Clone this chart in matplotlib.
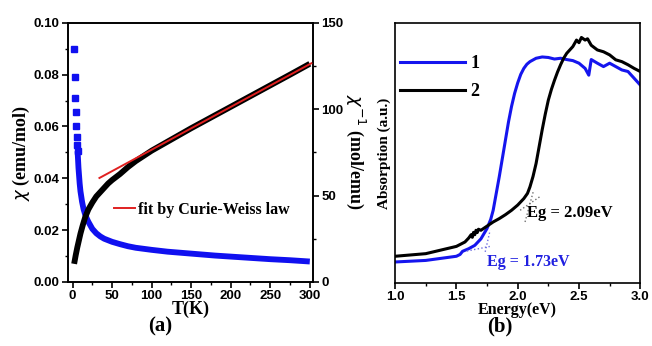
import numpy as np
from matplotlib import pyplot as plt
from matplotlib.ticker import MultipleLocator

# (a) susceptibility vs T
T_low = [2, 2.8, 3.5, 4.1, 4.7, 5.3, 5.8, 6.3]
chi_low = [0.090, 0.079, 0.071, 0.0655, 0.060, 0.056, 0.053, 0.0505]

T_chi = [6.3, 6.8, 7.5, 8, 9, 10, 12, 14, 16, 18, 20, 25, 30, 35, 40, 50, 60, 70, 80,
         90, 100, 120, 140, 160, 180, 200, 225, 250, 275, 300]
chi = [0.0505, 0.048, 0.044, 0.042, 0.038, 0.035, 0.031, 0.028, 0.026, 0.0245, 0.0232,
       0.0205, 0.0188, 0.0176, 0.0167, 0.0155, 0.0146, 0.0138, 0.0132, 0.0128,
       0.0124, 0.0117, 0.0112, 0.0107, 0.0102, 0.0098, 0.0093, 0.0088, 0.0084,
       0.0079]

T_inv = [2, 3, 4, 6, 8, 10, 13, 16, 20, 25, 30, 36, 45, 50, 60, 70, 80, 90, 100,
         125, 150, 175, 200, 225, 250, 275, 300]
chi_inv = [10.5, 13, 15.5, 20, 24, 28, 33, 37.5, 42, 46, 49.5, 52.5, 57, 59, 62.5,
           66.5, 70, 73, 76, 82.5, 89, 95.2, 101.4, 107.6, 113.8, 120, 126.3]

T_fit = [34, 302]
fit = [60.2, 126.6]

# (b) absorption spectra
E1 = [1.0, 1.25, 1.5, 1.53, 1.55, 1.6, 1.65, 1.7, 1.75, 1.78, 1.8, 1.825, 1.85,
      1.875, 1.9, 1.925, 1.95, 1.975, 2.0, 2.025, 2.05, 2.075, 2.1, 2.15, 2.2,
      2.25, 2.3, 2.35, 2.4, 2.45, 2.5, 2.55, 2.58, 2.6, 2.65, 2.7, 2.75, 2.8,
      2.85, 2.9, 2.95, 3.0]
A1 = [8.1, 8.7, 10.3, 11.0, 12.2, 13.2, 14.5, 17, 21, 24.5, 28, 34.5, 41,
      48, 55, 62, 68, 73, 77, 80.3, 82.6, 84.2, 85.2, 86.5, 87,
      86.8, 86.2, 86.5, 86, 85.6, 84.6, 82.6, 80, 86, 84.6, 83.3, 84.6, 83.3,
      82, 81.4, 78.8, 76.2]

E2 = [1.0, 1.25, 1.5, 1.57, 1.6, 1.62, 1.63, 1.64, 1.65, 1.66, 1.67, 1.68, 1.7,
      1.75, 1.8, 1.85, 1.9, 1.95, 2.0, 2.05, 2.08, 2.1, 2.125, 2.15, 2.175, 2.2,
      2.225, 2.25, 2.275, 2.3, 2.325, 2.35, 2.375, 2.4, 2.45, 2.48, 2.5, 2.52,
      2.55, 2.57, 2.6, 2.65, 2.7, 2.75, 2.8, 2.85, 2.9, 2.95, 3.0]
A2 = [10.3, 11.3, 14.1, 15.8, 17.3, 18.6, 17.6, 19.5, 18.6, 20.3, 19.4, 20.7, 20.3,
      21.9, 23.5, 24.8, 26.3, 28, 30, 32.5, 34.5, 37, 41, 46, 52.5, 59,
      65, 70.4, 74.5, 78, 81.2, 84, 86.5, 88.4, 91, 93.5, 92.5, 94.5,
      93.5, 94, 91.5, 89.7, 89, 87.8, 85.9, 85.2, 84, 82.6, 81.4]

tan1_E = [[1.585, 1.775], [1.735, 1.775]]
tan1_A = [[12.3, 14.1], [12.0, 20.3]]
tan2_E = [[2.02, 2.18], [2.06, 2.13]]
tan2_A = [[28.0, 33.2], [23.5, 35.7]]

sans = 'Liberation Sans'
serif = 'Liberation Serif'

fig = plt.figure(figsize=(6.52, 3.46), dpi=100)
ax1 = fig.add_axes([0.104, 0.185, 0.376, 0.749])
ax2 = ax1.twinx()

ax1.plot(T_low, chi_low, 's', color='#1010f0', ms=3.8, zorder=3)
ax1.plot(T_chi, chi, '-', color='#1010f0', lw=4.2, zorder=3,
         solid_capstyle='butt', solid_joinstyle='round')
ax2.plot(T_inv, chi_inv, '-', color='black', lw=4.2, zorder=3,
         solid_capstyle='butt', solid_joinstyle='round')
ax2.plot(T_fit, fit, '-', color='#e02020', lw=1.4, zorder=4,
         label='fit by Curie-Weiss law')

ax1.set_xlim(-6, 304)
ax1.set_ylim(0, 0.10)
ax2.set_ylim(0, 150)
ax1.xaxis.set_major_locator(MultipleLocator(50))
ax1.xaxis.set_minor_locator(MultipleLocator(25))
ax1.yaxis.set_minor_locator(MultipleLocator(0.01))
ax2.yaxis.set_major_locator(MultipleLocator(50))
ax2.yaxis.set_minor_locator(MultipleLocator(25))
ax1.set_yticks([0, 0.02, 0.04, 0.06, 0.08, 0.10])
ax1.set_yticklabels(['0.00', '0.02', '0.04', '0.06', '0.08', '0.10'])

for a in (ax1, ax2):
    a.tick_params(which='major', length=4, width=1.2, direction='out', labelsize=9.5, pad=2)
    a.tick_params(which='minor', length=2.5, width=1.0, direction='out')
    for lab in a.get_xticklabels() + a.get_yticklabels():
        lab.set_fontfamily(sans)
        lab.set_fontweight('bold')
    for s in a.spines.values():
        s.set_linewidth(1.2)

ax1.set_xlabel('T(K)', fontfamily=serif, fontweight='bold', fontsize=13, labelpad=-1)
ax1.set_ylabel(r'$\chi$ (emu/mol)', fontfamily=serif, fontweight='bold', fontsize=13, labelpad=1)
ax2.set_ylabel(r'$\chi^{-1}$ (mol/emu)', fontfamily=serif, fontweight='bold', fontsize=13,
               rotation=270, labelpad=17)
ax2.legend(loc='center left', bbox_to_anchor=(0.19, 0.278), frameon=False,
           borderaxespad=0, borderpad=0, handlelength=1.3, handletextpad=0.15,
           prop={'family': serif, 'weight': 'bold', 'size': 11.5})
fig.text(0.245, 0.055, '(a)', fontfamily=serif, fontweight='bold', fontsize=15,
         ha='center', va='center')

# (b)
ax3 = fig.add_axes([0.606, 0.182, 0.376, 0.751])
ax3.plot(E1, A1, '-', color='#1515ee', lw=2.2, label='1')
ax3.plot(E2, A2, '-', color='black', lw=2.2, label='2')
for xs, ys in zip(tan1_E, tan1_A):
    ax3.plot(xs, ys, ':', color='#7070e0', lw=1)
for xs, ys in zip(tan2_E, tan2_A):
    ax3.plot(xs, ys, ':', color='#707070', lw=1)
ax3.text(2.08, 26.9, 'Eg = 2.09eV', fontfamily=serif, fontweight='bold', fontsize=12,
         va='center', color='black')
ax3.text(1.75, 8.2, 'Eg = 1.73eV', fontfamily=serif, fontweight='bold', fontsize=11.5,
         va='center', color='#2020e0')
ax3.set_xlim(1.0, 3.0)
ax3.set_ylim(0, 100)
ax3.set_yticks([])
ax3.xaxis.set_major_locator(MultipleLocator(0.5))
ax3.xaxis.set_minor_locator(MultipleLocator(0.25))
ax3.tick_params(which='major', length=4, width=1.2, direction='out', labelsize=9.5, pad=2)
ax3.tick_params(which='minor', length=2.5, width=1.0, direction='out')
for lab in ax3.get_xticklabels():
    lab.set_fontfamily(sans)
    lab.set_fontweight('bold')
for s in ax3.spines.values():
    s.set_linewidth(1.2)
ax3.set_xlabel('Energy(eV)', fontfamily=serif, fontweight='bold', fontsize=11.5, labelpad=-1)
ax3.set_ylabel('Absorption (a.u.)', fontfamily=serif, fontweight='bold', fontsize=11, labelpad=3)
ax3.legend(loc='center left', bbox_to_anchor=(0.02, 0.79), frameon=False,
           borderaxespad=0, borderpad=0, handlelength=3.6, handletextpad=0.3,
           labelspacing=0.6, prop={'family': serif, 'weight': 'bold', 'size': 13})
fig.text(0.767, 0.055, '(b)', fontfamily=serif, fontweight='bold', fontsize=15,
         ha='center', va='center')

plt.savefig('out.png', dpi=100)
